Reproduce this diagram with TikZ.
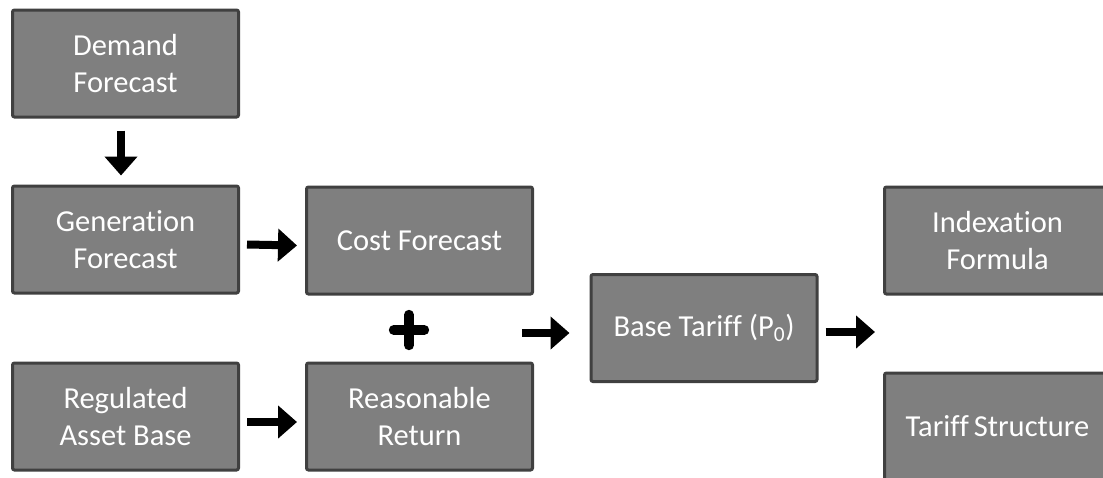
\documentclass[tikz,border=0pt]{standalone}
\usepackage{fontspec}
\setmainfont[RawFeature={-liga;-clig;-dlig}]{Carlito}
\usetikzlibrary{arrows.meta}
\definecolor{boxfill}{HTML}{7F7F7F}
\definecolor{boxline}{HTML}{404040}
\tikzset{
  stagebox/.style={draw=boxline, fill=boxfill, line width=3pt, rounded corners=2pt,
    minimum width=226pt, minimum height=107pt, inner sep=0pt, text=white,
    align=center, font=\fontsize{30.5}{37}\selectfont},
  bigarrow/.style={line width=8pt, -{Triangle[length=19pt,width=32pt]}},
}
\begin{document}
\begin{tikzpicture}[x=1pt,y=-1pt]
\useasboundingbox (0,0) rectangle (1103,477);
\clip (0,0) rectangle (1103,477);
\fill[white] (0,0) rectangle (1103,477);
\node[stagebox] (demand) at (125.5,63.5) {Demand\\Forecast};
\node[stagebox] (gen) at (125.5,239.5) {Generat\kern0pt ion\\Forecast};
\node[stagebox] (cost) at (419.5,240.5) {Cost Forecast};
\node[stagebox] (rab) at (125.5,416.5) {Regulated\\Asset Base};
\node[stagebox] (ret) at (419.5,416.5) {Reasonable\\Return};
\node[stagebox] (base) at (704,328) {Base Tarif\kern0pt f (P\textsubscript{0})};
\node[stagebox] (index) at (997.5,240.5) {Indexat\kern0pt ion\\Formula};
\node[stagebox] (struct) at (997.5,426.5) {Tarif\kern0pt f\hspace{-2pt} Structure};
\coordinate (sumin) at (522,333);
\coordinate (out) at (875,332);
\draw[bigarrow] ([xshift=-4.5pt,yshift=-12pt]demand.south) -- ([xshift=-4.5pt,yshift=9pt]demand.south |- gen.north);
\draw[bigarrow] ([xshift=7pt,yshift=-5pt]gen.east) -- ([xshift=-8pt,yshift=-5pt]cost.west);
\draw[bigarrow] ([xshift=7pt,yshift=-5.5pt]rab.east) -- ([xshift=-8pt,yshift=-5.5pt]ret.west);
\draw[bigarrow] (sumin) -- ([xshift=-20pt,yshift=-5pt]base.west);
\draw[bigarrow] ([xshift=7pt,yshift=-4pt]base.east) -- (out);
\node[minimum size=38pt, inner sep=0pt] (plus) at (409,330) {};
\draw[line width=10pt, line cap=round] ([xshift=4pt]plus.west) -- ([xshift=-4pt]plus.east) ([yshift=-4pt]plus.north) -- ([yshift=4pt]plus.south);
\end{tikzpicture}
\end{document}
